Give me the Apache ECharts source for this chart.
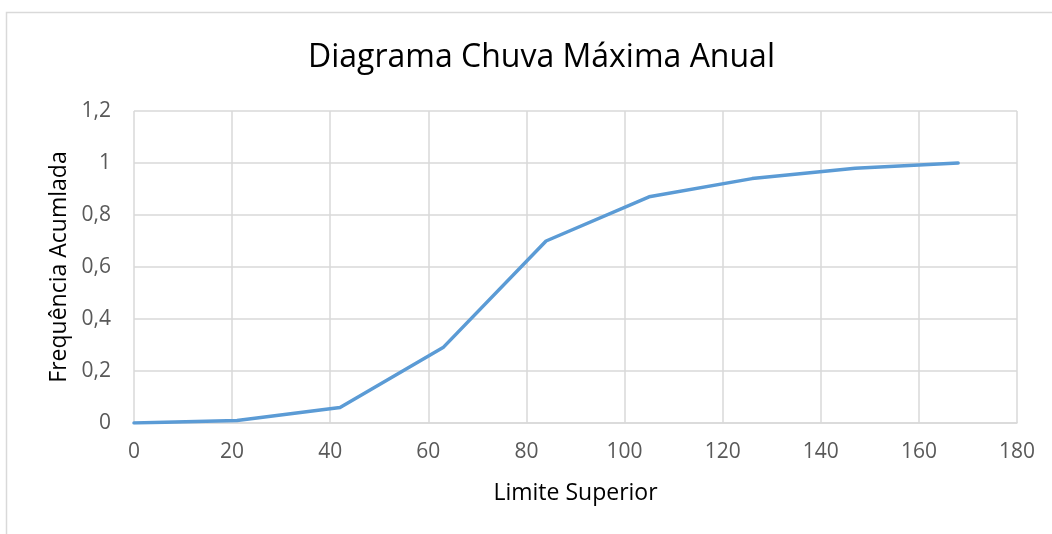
<!DOCTYPE html>
<html>
<head>
<meta charset="utf-8">
<script src="https://cdn.jsdelivr.net/npm/echarts@6/dist/echarts.min.js"></script>
<style>
  html, body { margin: 0; padding: 0; background: #fff; }
  #chart { width: 1052px; height: 534px; }
</style>
</head>
<body>
<div id="chart"></div>
<script>
// Upper class limits (mm) and cumulative frequency
const limiteSuperior = [0, 21, 42, 63, 84, 105, 126, 147, 168];
const frequenciaAcumulada = [0, 0.01, 0.06, 0.29, 0.70, 0.87, 0.94, 0.98, 1.0];

const FONT = '"Open Sans", "Noto Sans", sans-serif';
const fmtComma = v => String(+v.toFixed(1)).replace('.', ',');

const chart = echarts.init(document.getElementById('chart'), null, { renderer: 'canvas' });

chart.setOption({
  backgroundColor: '#ffffff',
  animation: false,
  title: {
    text: 'Diagrama Chuva Máxima Anual',
    left: 303,
    top: 37,
    textStyle: { fontFamily: FONT, fontSize: 32, fontWeight: 'normal', color: '#000000' }
  },
  graphic: [{
    type: 'rect',
    shape: { x: 6.5, y: 12.5, width: 1100, height: 600 },
    style: { fill: 'none', stroke: '#d9d9d9', lineWidth: 1.5 },
    silent: true
  }],
  grid: { left: 134, right: 35, top: 111, bottom: 111, containLabel: false },
  xAxis: {
    type: 'value',
    min: 0, max: 180, interval: 20,
    name: 'Limite Superior',
    nameLocation: 'middle',
    nameGap: 59,
    nameTextStyle: { fontFamily: FONT, fontSize: 23, color: '#000000' },
    axisLine: { show: true, lineStyle: { color: '#d9d9d9', width: 1.5 } },
    axisTick: { show: false },
    axisLabel: { fontFamily: FONT, fontSize: 21, color: '#595959', margin: 19 },
    splitLine: { show: true, lineStyle: { color: '#d9d9d9', width: 1.5 } }
  },
  yAxis: {
    type: 'value',
    min: 0, max: 1.2, interval: 0.2,
    name: 'Frequência Acumlada',
    nameLocation: 'middle',
    nameGap: 62,
    nameRotate: 90,
    nameTextStyle: { fontFamily: FONT, fontSize: 23, color: '#000000' },
    axisLine: { show: false },
    axisTick: { show: false },
    axisLabel: { fontFamily: FONT, fontSize: 21, color: '#595959', margin: 23, formatter: fmtComma },
    splitLine: { show: true, lineStyle: { color: '#d9d9d9', width: 1.5 } }
  },
  series: [{
    type: 'line',
    data: limiteSuperior.map((x, i) => [x, frequenciaAcumulada[i]]),
    showSymbol: false,
    symbol: 'none',
    lineStyle: { color: '#5b9bd5', width: 3.5, cap: 'round', join: 'round' },
    z: 5
  }]
});
</script>
</body>
</html>
